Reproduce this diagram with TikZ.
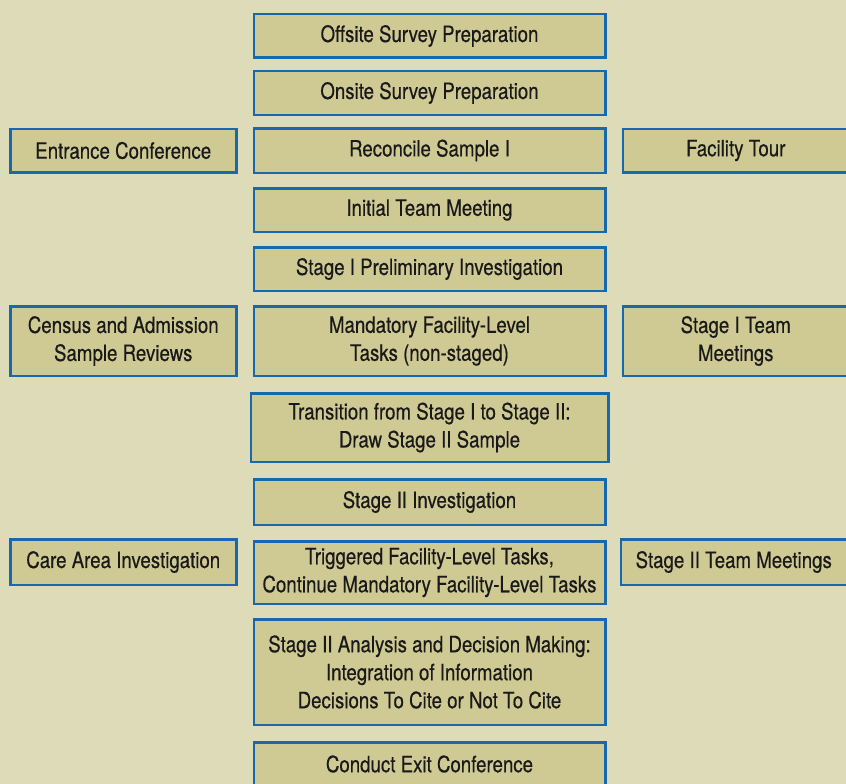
\documentclass[tikz,border=0pt]{standalone}
\usepackage{fontspec}
\setmainfont{TeX Gyre Heros}[FakeStretch=0.83, FakeBold=0.4]
\usetikzlibrary{positioning}
\definecolor{pageColor}{RGB}{222,219,185}
\definecolor{stageColor}{RGB}{207,201,148}
\definecolor{edgeColor}{RGB}{24,104,176}
\tikzset{stage/.append style={fill=stageColor, draw=edgeColor, line width=2.5pt, align=center, text=black!90, font=\fontsize{22.5}{28}\selectfont, minimum width=351.5pt, minimum height=43.5pt, inner sep=0pt}}
\tikzset{task/.append style={stage, minimum width=226pt}}

\begin{document}
\begin{tikzpicture}[node distance=13pt and 15pt]

    % Background
    \fill [pageColor] (0,0) rectangle (846pt,-784pt);
    \useasboundingbox (0,0) rectangle (846pt,-784pt);

    % Nodes
    \node (off) [stage] at (429.5pt,-36pt) {Offsite Survey Preparation};
    \node (on) [stage, below=11pt of off] {Onsite Survey Preparation};
    \node (rec) [stage, below=11pt of on, minimum height=44.5pt] {Reconcile Sample I};
    \node (team) [stage, below=of rec] {Initial Team Meeting};
    \node (pre) [stage, below=of team] {Stage I Preliminary Investigation};
    \node (mand) [stage, below=of pre, minimum height=69.5pt] {Mandatory Facility-Level\\Tasks (non-staged)};
    \node (tran) [stage, below=15pt of mand, minimum height=68.5pt, minimum width=357.5pt] {Transition from Stage I to Stage II:\\Draw Stage II Sample};
    \node (inv) [stage, below=15pt of tran, minimum height=45.5pt] {Stage II Investigation};
    \node (trig) [stage, below=14pt of inv, minimum height=62.5pt] {Triggered Facility-Level Tasks,\\Continue Mandatory Facility-Level Tasks};
    \node (ana) [stage, below=of trig, minimum height=105.5pt] {Stage II Analysis and Decision Making:\\Integration of Information\\Decisions To Cite or Not To Cite};
    \node (exit) [stage, below=15pt of ana] {Conduct Exit Conference};

    % Side tasks
    \node (ent) [task, left=of rec] {Entrance Conference};
    \node (tour) [task, right=of rec] {Facility Tour};
    \node (cen) [task, left=of mand, minimum height=69.5pt] {Census and Admission\\Sample Reviews};
    \node (meet) [task, right=of mand, minimum height=69.5pt] {Stage I Team\\Meetings};
    \node (care) [task, anchor=north east, minimum height=45.5pt] at ([xshift=-15pt, yshift=2pt]trig.north west) {Care Area Investigation};
    \node (meet2) [task, anchor=north west, minimum height=45.5pt] at ([xshift=13pt, yshift=2pt]trig.north east) {Stage II Team Meetings};

\end{tikzpicture}
\end{document}
